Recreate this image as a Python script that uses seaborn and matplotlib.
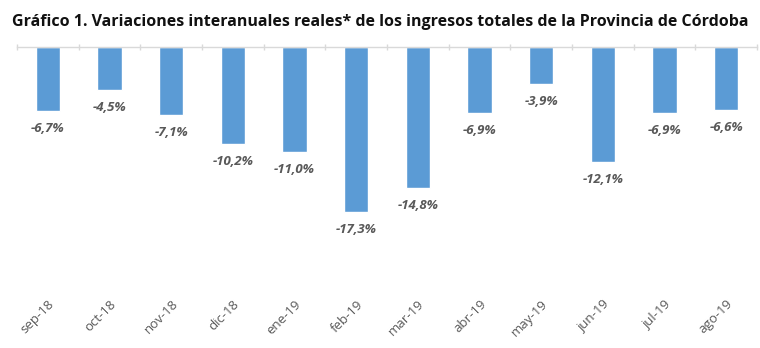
import matplotlib
matplotlib.use("Agg")
import matplotlib.pyplot as plt
import seaborn as sns
import pandas as pd
import numpy as np

meses = ["sep-18", "oct-18", "nov-18", "dic-18", "ene-19", "feb-19",
         "mar-19", "abr-19", "may-19", "jun-19", "jul-19", "ago-19"]
variacion = [-6.7, -4.5, -7.1, -10.2, -11.0, -17.3,
             -14.8, -6.9, -3.9, -12.1, -6.9, -6.6]

titulo = "Gráfico 1. Variaciones interanuales reales* de los ingresos totales de la Provincia de Córdoba"

sns.set_theme(style="white")
plt.rcParams["font.family"] = ["Open Sans", "DejaVu Sans"]

df = pd.DataFrame({"mes": meses, "variacion": variacion})

fig = plt.figure(figsize=(7.6, 3.48), dpi=100)
ax = fig.add_axes([17 / 760, 1 - 285 / 348, 740 / 760, 238 / 348])

sns.barplot(data=df, x="mes", y="variacion", color="#5B9BD5",
            width=0.39, saturation=1, ax=ax)

ax.set_ylim(-25, 0)
ax.set_xlim(-0.5, len(meses) - 0.5)

# value labels under each bar
for i, v in enumerate(df["variacion"]):
    txt = f"{v:.1f}%".replace(".", ",")
    ax.annotate(txt, (i, v), xytext=(0, -8), textcoords="offset points",
                ha="center", va="top", fontsize=9.5, fontstyle="italic",
                fontweight="bold", color="#595959")

for s in ["left", "right", "bottom"]:
    ax.spines[s].set_visible(False)
ax.spines["top"].set_color("#D9D9D9")
ax.spines["top"].set_linewidth(1)

ax.set_yticks([])
ax.set_xlabel("")
ax.set_ylabel("")
ax.set_xticks(range(len(meses)))
ax.set_xticklabels(meses, rotation=45, ha="right", rotation_mode="anchor",
                   fontsize=9.5, color="#595959")
ax.tick_params(axis="x", which="major", length=0, pad=9)
ax.set_xticks(np.arange(-0.5, len(meses), 1), minor=True)
ax.tick_params(axis="x", which="minor", top=True, bottom=False,
               direction="inout", length=5, color="#D9D9D9")

fig.text(0.5, 1 - 22 / 348, titulo, ha="center", va="center",
         fontsize=11.5, fontweight="bold", color="#111111")

fig.savefig("out.png", dpi=100, facecolor="white")
